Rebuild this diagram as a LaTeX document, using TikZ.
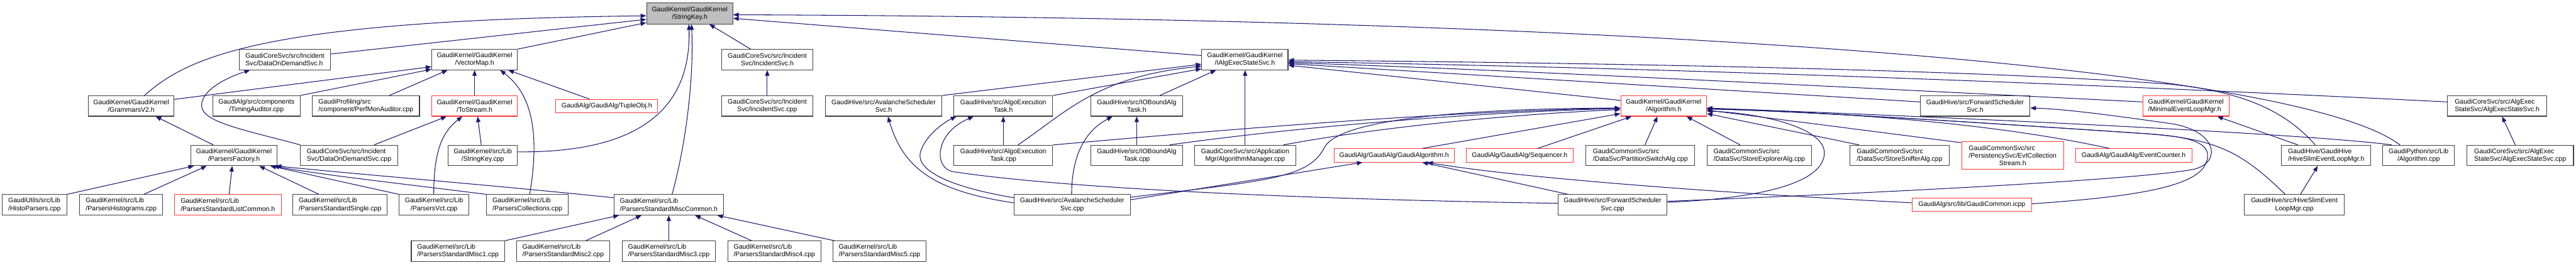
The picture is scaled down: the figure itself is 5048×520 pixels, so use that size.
\documentclass[tikz,border=0pt]{standalone}
\usepackage{fontspec}
\setmainfont{Liberation Sans}
\usetikzlibrary{arrows.meta}
\definecolor{edgec}{RGB}{25,25,112}
\definecolor{boxc}{RGB}{64,64,64}
\definecolor{redc}{RGB}{255,56,56}
\definecolor{skfill}{RGB}{191,191,191}
\begin{document}
\begin{tikzpicture}[x=1pt,y=-1pt,
  box/.style={draw=boxc, line width=1.3pt, fill=white, inner sep=0pt, minimum height=40pt, font=\fontsize{13}{15}\selectfont, align=center, text=black},
  rbox/.style={box, draw=redc},
  lbox/.style={box, align=left},
  rlbox/.style={rbox, align=left},
  e/.style={draw=edgec, line width=1.3pt, -{Triangle[length=11pt,width=8.5pt]}},
]
\useasboundingbox (0,0) rectangle (5048,520);
% row 0
\node[box, fill=skfill, minimum width=169pt, minimum height=41pt] (sk) at (1351.5,26.5) {GaudiKernel/GaudiKernel\\/StringKey.h};
% row 1
\node[lbox, minimum width=179pt] (dodsh) at (558.5,117) {GaudiCoreSvc/src/Incident\\Svc/DataOnDemandSvc.h};
\node[box, minimum width=168pt] (vmap) at (930,117) {GaudiKernel/GaudiKernel\\/VectorMap.h};
\node[box, minimum width=179pt] (isvch) at (1503.5,117) {GaudiCoreSvc/src/Incident\\Svc/IncidentSvc.h};
\node[box, minimum width=169pt] (iaes) at (2439.5,117) {GaudiKernel/GaudiKernel\\/IAlgExecStateSvc.h};
% row 2
\node[box, minimum width=168pt] (gram) at (257,208) {GaudiKernel/GaudiKernel\\/GrammarsV2.h};
\node[box, minimum width=171pt] (timing) at (502.5,208) {GaudiAlg/src/components\\/TimingAuditor.cpp};
\node[lbox, minimum width=210pt] (perfmon) at (717,208) {GaudiProfiling/src\\/component/PerfMonAuditor.cpp};
\node[rbox, minimum width=168pt] (tostream) at (930,208) {GaudiKernel/GaudiKernel\\/ToStream.h};
\node[rbox, minimum width=200pt, minimum height=26pt] (tuple) at (1189,208) {GaudiAlg/GaudiAlg/TupleObj.h};
\node[box, minimum width=179pt] (isvccpp) at (1503.5,208) {GaudiCoreSvc/src/Incident\\Svc/IncidentSvc.cpp};
\node[box, minimum width=229pt] (avalh) at (1731.5,208) {GaudiHive/src/AvalancheScheduler\\Svc.h};
\node[box, minimum width=194pt] (aeth) at (1966,208) {GaudiHive/src/AlgoExecution\\Task.h};
\node[box, minimum width=179pt] (iobh) at (2227.5,208) {GaudiHive/src/IOBoundAlg\\Task.h};
\node[rbox, minimum width=168pt] (algh) at (3260,208) {GaudiKernel/GaudiKernel\\/Algorithm.h};
\node[box, minimum width=215pt] (fwdh) at (3870.5,208) {GaudiHive/src/ForwardScheduler\\Svc.h};
\node[rlbox, minimum width=169pt] (minimal) at (4283.5,208) {GaudiKernel/GaudiKernel\\/MinimalEventLoopMgr.h};
\node[lbox, minimum width=195pt] (aesh) at (4893.5,208) {GaudiCoreSvc/src/AlgExec\\StateSvc/AlgExecStateSvc.h};
% row 3
\node[box, minimum width=169pt] (pfac) at (458.5,305) {GaudiKernel/GaudiKernel\\/ParsersFactory.h};
\node[lbox, minimum width=190pt] (dodscpp) at (684,305) {GaudiCoreSvc/src/Incident\\Svc/DataOnDemandSvc.cpp};
\node[box, minimum width=136pt] (skcpp) at (946,305) {GaudiKernel/src/Lib\\/StringKey.cpp};
\node[box, minimum width=194pt] (aetcpp) at (1966,305) {GaudiHive/src/AlgoExecution\\Task.cpp};
\node[box, minimum width=179pt] (iobcpp) at (2227.5,305) {GaudiHive/src/IOBoundAlg\\Task.cpp};
\node[box, minimum width=198pt] (algmgr) at (2440,305) {GaudiCoreSvc/src/Application\\Mgr/AlgorithmManager.cpp};
\node[rbox, minimum width=236pt, minimum height=26pt] (galg) at (2732,305) {GaudiAlg/GaudiAlg/GaudiAlgorithm.h};
\node[rbox, minimum width=210pt, minimum height=26pt] (seq) at (2978,305) {GaudiAlg/GaudiAlg/Sequencer.h};
\node[lbox, minimum width=213pt] (pswitch) at (3214.5,305) {GaudiCommonSvc/src\\/DataSvc/PartitionSwitchAlg.cpp};
\node[lbox, minimum width=205pt] (sexpl) at (3447.5,305) {GaudiCommonSvc/src\\/DataSvc/StoreExplorerAlg.cpp};
\node[lbox, minimum width=195pt] (ssniff) at (3722.5,305) {GaudiCommonSvc/src\\/DataSvc/StoreSnifferAlg.cpp};
\node[rbox, minimum width=200pt, minimum height=54pt] (evtcoll) at (3944,305) {\begin{tabular}{@{}l@{}}GaudiCommonSvc/src\\/PersistencySvc/EvtCollection\end{tabular}\\Stream.h};
\node[rbox, minimum width=228pt, minimum height=26pt] (evcount) at (4181,305) {GaudiAlg/GaudiAlg/EventCounter.h};
\node[lbox, minimum width=175pt] (hiveh) at (4558.5,305) {GaudiHive/GaudiHive\\/HiveSlimEventLoopMgr.h};
\node[box, minimum width=141pt] (gpalg) at (4739.5,305) {GaudiPython/src/Lib\\/Algorithm.cpp};
\node[lbox, minimum width=209pt] (aescpp) at (4938.5,305) {GaudiCoreSvc/src/AlgExec\\StateSvc/AlgExecStateSvc.cpp};
% row 4
\node[lbox, minimum width=127pt] (histo) at (67.5,402) {GaudiUtils/src/Lib\\/HistoParsers.cpp};
\node[lbox, minimum width=163pt] (phist) at (237.5,402) {GaudiKernel/src/Lib\\/ParsersHistograms.cpp};
\node[rlbox, minimum width=209pt] (plist) at (446.5,402) {GaudiKernel/src/Lib\\/ParsersStandardListCommon.h};
\node[lbox, minimum width=185pt] (psingle) at (666.5,402) {GaudiKernel/src/Lib\\/ParsersStandardSingle.cpp};
\node[box, minimum width=137pt] (pvct) at (850.5,402) {GaudiKernel/src/Lib\\/ParsersVct.cpp};
\node[lbox, minimum width=161pt] (pcoll) at (1033.5,402) {GaudiKernel/src/Lib\\/ParsersCollections.cpp};
\node[lbox, minimum width=215pt] (pmiscc) at (1310.5,402) {GaudiKernel/src/Lib\\/ParsersStandardMiscCommon.h};
\node[box, minimum width=228pt] (avalcpp) at (2101,402) {GaudiHive/src/AvalancheScheduler\\Svc.cpp};
\node[box, minimum width=214pt] (fwdcpp) at (3160,402) {GaudiHive/src/ForwardScheduler\\Svc.cpp};
\node[rbox, minimum width=234pt, minimum height=26pt] (gcommon) at (3864,402) {GaudiAlg/src/lib/GaudiCommon.icpp};
\node[box, minimum width=196pt] (hivecpp) at (4496,402) {GaudiHive/src/HiveSlimEvent\\LoopMgr.cpp};
% row 5
\node[lbox, minimum width=183pt] (m1) at (897.5,493) {GaudiKernel/src/Lib\\/ParsersStandardMisc1.cpp};
\node[lbox, minimum width=183pt] (m2) at (1103.5,493) {GaudiKernel/src/Lib\\/ParsersStandardMisc2.cpp};
\node[lbox, minimum width=183pt] (m3) at (1310.5,493) {GaudiKernel/src/Lib\\/ParsersStandardMisc3.cpp};
\node[lbox, minimum width=183pt] (m4) at (1517.5,493) {GaudiKernel/src/Lib\\/ParsersStandardMisc4.cpp};
\node[lbox, minimum width=183pt] (m5) at (1723.5,493) {GaudiKernel/src/Lib\\/ParsersStandardMisc5.cpp};
% edges to StringKey.h
\draw[e] ([xshift=26pt]gram.north) .. controls (370,110) and (520,40) .. ([yshift=-4.5pt]sk.west);
\draw[e] ([yshift=11pt]dodsh.east) -- ([yshift=-11.5pt]sk.west);
\draw[e] (vmap.north east) -- ([yshift=-18pt]sk.west);
\draw[e] ([xshift=6.5pt]pmiscc.north) .. controls (1345,280) and (1360,150) .. ([xshift=3.5pt]sk.south);
\draw[e] ([yshift=7pt]skcpp.east) .. controls (1230,300) and (1355,230) .. ([xshift=-1.5pt]sk.south);
\draw[e] ([xshift=-32.5pt]isvch.north) -- ([xshift=38.5pt]sk.south);
\draw[e] ([yshift=8pt]iaes.west) -- ([yshift=-9.5pt]sk.east);
\draw[e] ([xshift=-36.5pt]gpalg.north) .. controls (4500,130) and (3200,35) .. ([yshift=-2.5pt]sk.east);
% edges to IAlgExecStateSvc.h
\draw[e] (avalh.north east) -- ([yshift=-9pt]iaes.west);
\draw[e] (aeth.north east) -- ([yshift=-18pt]iaes.west);
\draw[e] ([xshift=29pt]aetcpp.north) .. controls (2090,220) and (2150,150) .. ([yshift=-13pt]iaes.west);
\draw[e] ([xshift=45.5pt]iobh.north) -- ([xshift=-56.5pt]iaes.south);
\draw[e] (algmgr.north) -- (algmgr.north |- iaes.south);
\draw[e] ([yshift=11pt]algh.west) -- ([yshift=-11pt]iaes.east);
\draw[e] ([yshift=8pt]fwdh.west) -- ([yshift=-8pt]iaes.east);
\draw[e] ([yshift=8pt]minimal.west) .. controls (3400,160) and (2900,135) .. ([yshift=-6pt]iaes.east);
\draw[e] ([xshift=-21.5pt]hiveh.north) .. controls (4480,220) and (4400,180) .. (4250,165) .. controls (3900,140) and (3300,125) .. ([yshift=-1pt]iaes.east);
\draw[e] ([yshift=8pt]aesh.west) .. controls (4300,175) and (3400,135) .. ([yshift=-4pt]iaes.east);
% edges to Algorithm.h
\draw[e] (aetcpp.north east) .. controls (2400,255) and (2800,220) .. ([yshift=-4pt]algh.west);
\draw[e] ([xshift=64.5pt]iobcpp.north) .. controls (2550,248) and (2900,220) .. ([yshift=-5pt]algh.west);
\draw[e] ([xshift=75pt]algmgr.north) .. controls (2700,250) and (2950,225) .. ([yshift=-7pt]algh.west);
\draw[e] ([yshift=15pt]avalcpp.east) .. controls (2480,355) and (2565,350) .. (2595,290) .. controls (2625,230) and (2900,213) .. ([yshift=-4pt]algh.west);
\draw[e] ([xshift=55pt]galg.north) -- ([yshift=-15pt]algh.west);
\draw[e] ([xshift=35pt]seq.north) -- ([xshift=-63pt]algh.south);
\draw[e] ([xshift=9pt]pswitch.north) -- ([xshift=-12pt]algh.south);
\draw[e] ([xshift=-37.5pt]sexpl.north) -- ([xshift=45pt]algh.south);
\draw[e] ([xshift=-79.5pt]ssniff.north) -- ([yshift=-15pt]algh.east);
\draw[e] ([yshift=25pt]evtcoll.west) -- ([yshift=-8pt]algh.east);
\draw[e] ([xshift=-47pt]evcount.north) .. controls (3900,240) and (3600,220) .. ([yshift=-6pt]algh.east);
\draw[e] ([xshift=-52.5pt]gpalg.north) .. controls (4500,260) and (3700,225) .. ([yshift=-4pt]algh.east);
\draw[e] ([xshift=-18pt]hivecpp.north) .. controls (4390,295) and (4340,272) .. (4200,262) .. controls (3900,242) and (3600,222) .. ([yshift=-5pt]algh.east);
\draw[e] ([yshift=2pt]gcommon.east) .. controls (4150,388) and (4300,372) .. (4322,322) .. controls (4340,282) and (4300,268) .. (4200,262) .. controls (3900,242) and (3600,222) .. ([yshift=-5pt]algh.east);
\draw[e] ([yshift=5pt]fwdcpp.east) .. controls (3500,387) and (3575,345) .. (3575,300) .. controls (3575,250) and (3450,222) .. ([yshift=-10pt]algh.east);
% other edges
\draw[e] ([yshift=7pt]fwdcpp.east) .. controls (3700,378) and (4200,352) .. (4300,332) .. controls (4355,318) and (4345,255) .. (4250,242) .. controls (4150,228) and (4050,214) .. ([yshift=-4pt]fwdh.east);
\draw[e] ([xshift=12pt]hivecpp.north) -- ([xshift=-16.5pt]hiveh.south);
\draw[e] ([xshift=-55.5pt]hiveh.north) -- ([xshift=61.5pt]minimal.south);
\draw[e] ([xshift=-9.5pt]aescpp.north) -- ([xshift=9.5pt]aesh.south);
\draw[e] ([yshift=10pt]avalcpp.east) -- ([xshift=-62pt]galg.south);
\draw[e] ([xshift=-87pt]fwdcpp.north) -- ([xshift=55pt]galg.south);
\draw[e] ([yshift=4pt]gcommon.west) .. controls (3300,375) and (2950,345) .. ([xshift=65pt]galg.south);
\draw[e] ([yshift=3pt]fwdcpp.west) .. controls (2600,392) and (2100,372) .. (1868,337) .. controls (1830,331) and (1830,262) .. ([xshift=-58pt]aeth.south);
\draw[e] ([yshift=14pt]avalcpp.west) .. controls (1850,365) and (1790,330) .. (1805,295) .. controls (1815,265) and (1850,240) .. ([xshift=-92pt]aeth.south);
\draw[e] ([yshift=4pt]avalcpp.west) .. controls (1830,375) and (1770,330) .. ([xshift=8.5pt]avalh.south);
\draw[e] (aetcpp.north) -- (aeth.south);
\draw[e] ([xshift=-1pt]avalcpp.north) .. controls (2100,300) and (2130,255) .. ([xshift=-47.5pt]iobh.south);
\draw[e] (iobcpp.north) -- (iobh.south);
\draw[e] (isvccpp.north) -- (isvch.south);
\draw[e] ([yshift=13pt]gram.east) -- ([yshift=-14pt]vmap.west);
\draw[e] (timing.north east) -- ([yshift=-19pt]vmap.west);
\draw[e] ([xshift=46pt]perfmon.north) -- ([xshift=-53pt]vmap.south);
\draw[e] (tostream.north) -- (vmap.south);
\draw[e] ([xshift=4.5pt]pcoll.north) .. controls (1055,280) and (1050,190) .. ([xshift=50pt]vmap.south);
\draw[e] ([xshift=-34pt]tuple.north) -- ([xshift=66pt]vmap.south);
\draw[e] ([xshift=49pt]dodscpp.north) -- ([xshift=-55pt]tostream.south);
\draw[e] ([xshift=-0.5pt]pvct.north) .. controls (850,300) and (865,260) .. ([xshift=-24pt]tostream.south);
\draw[e] ([xshift=-3pt]skcpp.north) -- ([xshift=6pt]tostream.south);
\draw[e] (dodscpp.north west) .. controls (480,255) and (395,240) .. (395,207) .. controls (395,175) and (450,150) .. ([xshift=-68.5pt]dodsh.south);
\draw[e] ([xshift=-40.5pt]pfac.north) -- ([xshift=48pt]gram.south);
\draw[e] (histo.north east) -- ([xshift=-78.5pt]pfac.south);
\draw[e] ([xshift=44.5pt]phist.north) -- ([xshift=-53.5pt]pfac.south);
\draw[e] ([xshift=2.5pt]plist.north) -- ([xshift=-3.5pt]pfac.south);
\draw[e] ([xshift=-41.5pt]psingle.north) -- ([xshift=49.5pt]pfac.south);
\draw[e] (pvct.north west) -- ([xshift=-14pt]pfac.south east);
\draw[e] (pcoll.north west) .. controls (800,362) and (620,342) .. ([xshift=-8pt]pfac.south east);
\draw[e] ([yshift=14pt]pmiscc.west) .. controls (950,362) and (700,342) .. ([xshift=-3pt]pfac.south east);
\draw[e] (m1.north east) -- ([xshift=-97.5pt]pmiscc.south);
\draw[e] ([xshift=44.5pt]m2.north) -- ([xshift=-53.5pt]pmiscc.south);
\draw[e] (m3.north) -- (pmiscc.south);
\draw[e] ([xshift=-44.5pt]m4.north) -- ([xshift=51.5pt]pmiscc.south);
\draw[e] ([xshift=-88.5pt]m5.north) -- ([xshift=95pt]pmiscc.south);
\end{tikzpicture}
\end{document}
